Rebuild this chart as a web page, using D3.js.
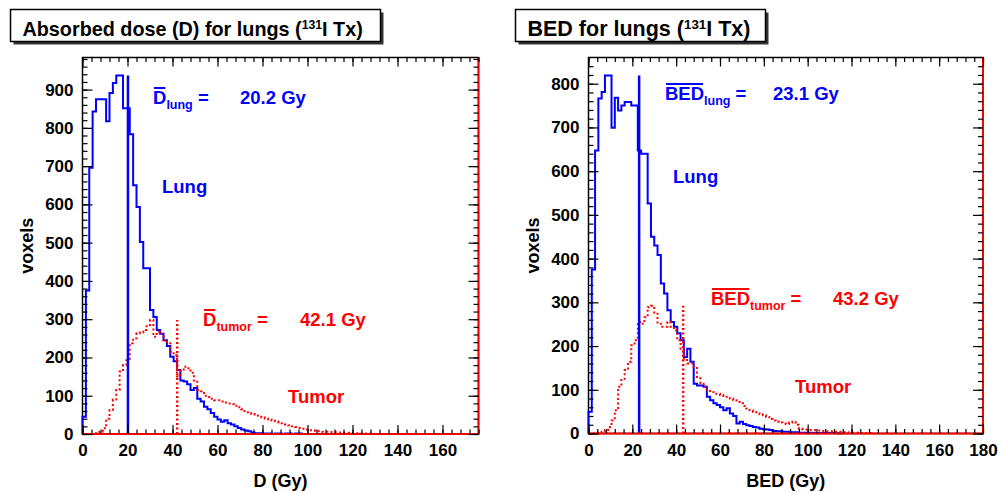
<!DOCTYPE html>
<html>
<head>
<meta charset="utf-8">
<script src="https://cdn.jsdelivr.net/npm/d3@7"></script>
<style>
body { margin: 0; background: #fff; }
svg text { font-family: "Liberation Sans", Arial, sans-serif; font-weight: bold; }
</style>
</head>
<body>
<div id="chart"></div>
<script>
// all histograms use 1.5 Gy bins starting at 0
const binWidth = 1.5;

// absorbed dose D (Gy) histograms
const lungD = [45, 375, 696, 843, 875, 875, 875, 817, 891, 917, 937, 937, 851, 851, 783, 650,
  593, 502, 433, 433, 324, 306, 272, 262, 245, 230, 202, 190, 167, 140, 137, 130, 115, 120,
  92, 85, 71, 65, 55, 45, 38, 32, 36, 28, 25, 20, 16, 12, 9, 7, 4, 2, 2, 1, 1, 1, 0, 1, 1, 0,
  1, 1, 0, 1, 1, 0];
const tumorD = [0, 0, 0, 0, 2, 6, 15, 40, 63, 90, 115, 163, 180, 193, 237, 250, 263, 265, 272,
  285, 298, 254, 267, 262, 245, 237, 215, 206, 150, 165, 176, 172, 160, 140, 115, 112, 100, 97,
  92, 88, 88, 85, 82, 80, 78, 74, 70, 65, 60, 57, 52, 48, 45, 43, 40, 38, 35, 33, 31, 28, 25,
  23, 20, 18, 16, 14, 12, 10, 9, 8, 7, 6, 6, 5, 5, 4, 4, 3, 3, 2, 2, 2, 1, 1, 1, 1, 0];

// BED (Gy) histograms
const lungBED = [50, 375, 647, 766, 781, 819, 819, 699, 768, 739, 750, 758, 758, 750, 750, 647,
  640, 640, 526, 450, 430, 408, 343, 320, 282, 255, 244, 229, 213, 175, 194, 164, 114, 110, 110,
  107, 84, 76, 69, 65, 60, 53, 58, 46, 40, 23, 27, 22, 19, 17, 15, 14, 11, 10, 9, 8, 6, 5, 5, 4,
  4, 3, 3, 3, 2, 2, 2, 2, 1, 1, 1, 1, 1, 1, 1, 1, 0];
const tumorBED = [0, 0, 0, 2, 4, 8, 15, 30, 53, 107, 125, 145, 164, 202, 213, 255, 251, 266, 289,
  292, 274, 251, 244, 244, 255, 244, 236, 213, 194, 168, 160, 160, 152, 129, 114, 107, 100, 95,
  91, 91, 88, 86, 84, 80, 76, 72, 69, 63, 57, 53, 49, 46, 44, 42, 38, 33, 30, 27, 25, 23, 22, 25,
  27, 20, 11, 10, 9, 8, 8, 7, 7, 6, 5, 5, 5, 4, 4, 3, 3, 2, 2, 2, 1, 1, 1, 1, 0];

const meanLungD = 20.2, meanTumorD = 42.1;
const meanLungBED = 23.1, meanTumorBED = 43.2;

const xTicksD = [0, 20, 40, 60, 80, 100, 120, 140, 160];
const xTicksBED = [0, 20, 40, 60, 80, 100, 120, 140, 160, 180];
const yTicksD = [0, 100, 200, 300, 400, 500, 600, 700, 800, 900];
const yTicksBED = [0, 100, 200, 300, 400, 500, 600, 700, 800];

const blue = "#0000ff", red = "#ff0000";

const svg = d3.select("#chart")
  .append("svg")
  .attr("width", 1000)
  .attr("height", 492);

function stepPoints(vals) {
  const pts = [[0, 0]];
  vals.forEach((v, i) => pts.push([i * binWidth, v]));
  pts.push([vals.length * binWidth, vals[vals.length - 1]]);
  pts.push([vals.length * binWidth, 0]);
  return pts;
}

// symbol with overline + subscript, then "=" and the value
function meanLabel(g, p, sym, sub, value, color) {
  const t = g.append("text")
    .attr("x", p[0]).attr("y", p[1])
    .attr("fill", color)
    .style("font-size", "18.5px");
  t.append("tspan").text(sym);
  t.append("tspan").attr("dy", 5).style("font-size", "12.5px").text(sub);
  t.append("tspan").attr("dy", -5).text(" =");
  const w = t.node().getSubStringLength(0, sym.length);
  g.append("line")
    .attr("x1", p[0] + 1).attr("x2", p[0] + w - 1)
    .attr("y1", p[1] - 16).attr("y2", p[1] - 16)
    .attr("stroke", color).attr("stroke-width", 2);
  g.append("text")
    .attr("x", p[2]).attr("y", p[1])
    .attr("fill", color)
    .style("font-size", "18.5px")
    .text(value.toFixed(1) + " Gy");
}

function drawPanel(c) {
  const g = svg.append("g");

  // title box with shadow
  g.append("rect")
    .attr("x", c.titleBox[0] + 3).attr("y", c.titleBox[1] + 3)
    .attr("width", c.titleBox[2]).attr("height", c.titleBox[3])
    .attr("fill", "#333");
  g.append("rect")
    .attr("x", c.titleBox[0]).attr("y", c.titleBox[1])
    .attr("width", c.titleBox[2]).attr("height", c.titleBox[3])
    .attr("fill", "white").attr("stroke", "black").attr("stroke-width", 1.5);
  const tt = g.append("text")
    .attr("x", c.titleBox[0] + 12).attr("y", c.titleBox[1] + 26)
    .style("font-size", c.titleSize + "px");
  tt.append("tspan").text(c.title + " (");
  tt.append("tspan").attr("dy", -7).style("font-size", (c.titleSize * 0.62) + "px").text("131");
  tt.append("tspan").attr("dy", 7).text("I Tx)");

  const x = d3.scaleLinear().domain([0, c.xMax]).range([c.x0, c.x1]);
  const yMax = 1.05 * d3.max(c.lung);
  const y = d3.scaleLinear().domain([0, yMax]).range([c.y1, c.y0]);

  const line = d3.line()
    .x(d => x(d[0]))
    .y(d => y(d[1]))
    .curve(d3.curveStepAfter);

  g.append("rect")
    .attr("x", c.x0).attr("y", c.y0)
    .attr("width", c.x1 - c.x0).attr("height", c.y1 - c.y0)
    .attr("fill", "none").attr("stroke", "black").attr("stroke-width", 1.5);

  // histograms
  g.append("path")
    .attr("d", line(stepPoints(c.lung)))
    .attr("fill", "none").attr("stroke", blue).attr("stroke-width", 2);
  g.append("path")
    .attr("d", line(stepPoints(c.tumor)))
    .attr("fill", "none").attr("stroke", red).attr("stroke-width", 2)
    .attr("stroke-dasharray", "2,2.5");

  // mean lines
  g.append("line")
    .attr("x1", x(c.meanLung)).attr("x2", x(c.meanLung))
    .attr("y1", y(0)).attr("y2", y(d3.max(c.lung)))
    .attr("stroke", blue).attr("stroke-width", 2.5);
  g.append("line")
    .attr("x1", x(c.meanTumor)).attr("x2", x(c.meanTumor))
    .attr("y1", y(0)).attr("y2", y(d3.max(c.tumor)))
    .attr("stroke", red).attr("stroke-width", 2.5)
    .attr("stroke-dasharray", "2,2.5");

  // red bottom / right edge
  g.append("path")
    .attr("d", `M${c.x0},${c.y1}H${c.x1}V${c.y0}`)
    .attr("fill", "none").attr("stroke", red).attr("stroke-width", 1.8);

  // axes, ticks inside on all four sides
  const minorX = d3.range(0, c.xMax + 0.01, 4);
  const minorY = d3.range(0, yMax, 20);

  const ax = (axis, tr) => {
    const a = g.append("g").attr("transform", tr).call(axis);
    a.select(".domain").remove();
    a.selectAll("line").attr("stroke", "black").attr("stroke-width", 1.2);
    return a;
  };

  const xb = ax(d3.axisBottom(x).tickValues(c.xTicks).tickSizeInner(-9).tickSizeOuter(0)
    .tickPadding(10).tickFormat(d3.format("d")), `translate(0,${c.y1})`);
  xb.selectAll("text").style("font-size", "17px").attr("fill", "black");
  ax(d3.axisBottom(x).tickValues(minorX).tickSize(-4.5).tickFormat(""), `translate(0,${c.y1})`);
  ax(d3.axisTop(x).tickValues(c.xTicks).tickSize(-9).tickFormat(""), `translate(0,${c.y0})`);
  ax(d3.axisTop(x).tickValues(minorX).tickSize(-4.5).tickFormat(""), `translate(0,${c.y0})`);

  const yl = ax(d3.axisLeft(y).tickValues(c.yTicks).tickSizeInner(-10).tickSizeOuter(0)
    .tickPadding(9).tickFormat(d3.format("d")), `translate(${c.x0},0)`);
  yl.selectAll("text").style("font-size", "17px").attr("fill", "black");
  ax(d3.axisLeft(y).tickValues(minorY).tickSize(-5).tickFormat(""), `translate(${c.x0},0)`);
  ax(d3.axisRight(y).tickValues(c.yTicks).tickSize(-10).tickFormat(""), `translate(${c.x1},0)`);
  ax(d3.axisRight(y).tickValues(minorY).tickSize(-5).tickFormat(""), `translate(${c.x1},0)`);

  // axis titles
  g.append("text")
    .attr("x", (c.x0 + c.x1) / 2).attr("y", 487)
    .attr("text-anchor", "middle")
    .style("font-size", "18px")
    .text(c.xLabel);
  g.append("text")
    .attr("transform", `translate(${c.yLabelX},${(c.y0 + c.y1) / 2}) rotate(-90)`)
    .attr("text-anchor", "middle")
    .style("font-size", "18px")
    .text("voxels");

  // annotations
  meanLabel(g, c.lungLabel, c.sym, "lung", c.meanLung, blue);
  meanLabel(g, c.tumorLabel, c.sym, "tumor", c.meanTumor, red);
  g.append("text")
    .attr("x", c.lungText[0]).attr("y", c.lungText[1])
    .attr("fill", blue).style("font-size", "18.5px").text("Lung");
  g.append("text")
    .attr("x", c.tumorText[0]).attr("y", c.tumorText[1])
    .attr("fill", red).style("font-size", "18.5px").text("Tumor");
}

drawPanel({
  title: "Absorbed dose (D) for lungs", titleBox: [10.5, 9.5, 370, 32], titleSize: 19.8,
  x0: 82.5, x1: 478.5, y0: 57.5, y1: 434, xMax: 176,
  lung: lungD, tumor: tumorD, meanLung: meanLungD, meanTumor: meanTumorD,
  xTicks: xTicksD, yTicks: yTicksD, xLabel: "D (Gy)", yLabelX: 33,
  sym: "D", lungLabel: [153, 104, 240], tumorLabel: [203, 326, 300],
  lungText: [162, 193], tumorText: [288, 403]
});

drawPanel({
  title: "BED for lungs", titleBox: [515.5, 9.5, 250, 32], titleSize: 21.5,
  x0: 588.5, x1: 983, y0: 57.5, y1: 433.5, xMax: 180,
  lung: lungBED, tumor: tumorBED, meanLung: meanLungBED, meanTumor: meanTumorBED,
  xTicks: xTicksBED, yTicks: yTicksBED, xLabel: "BED (Gy)", yLabelX: 539,
  sym: "BED", lungLabel: [665, 100, 773], tumorLabel: [711, 305, 833],
  lungText: [673, 183], tumorText: [795, 393]
});
</script>
</body>
</html>
